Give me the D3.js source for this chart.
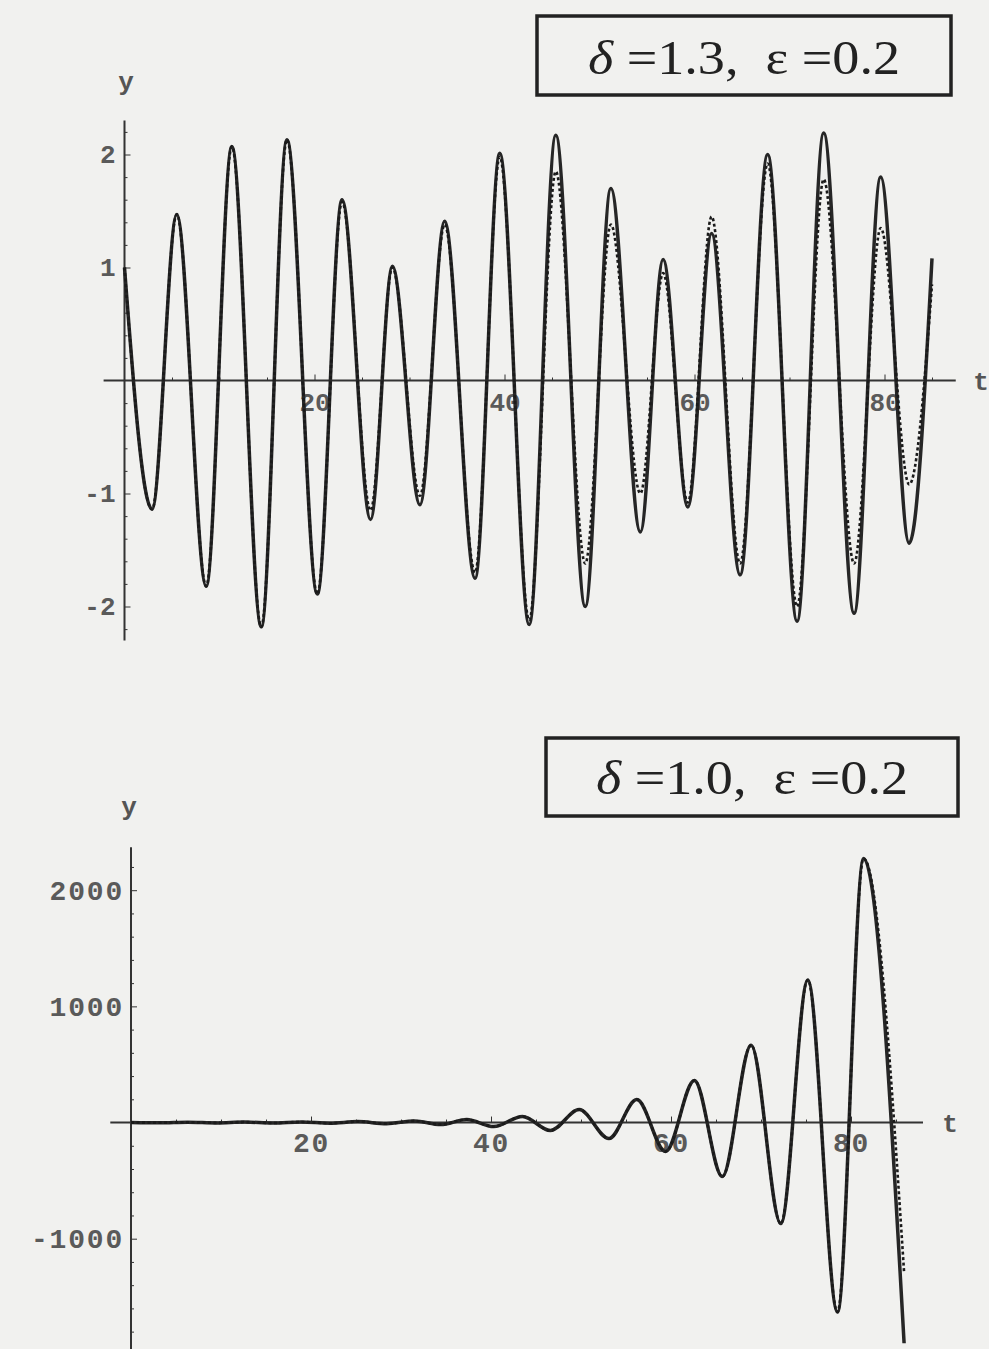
<!DOCTYPE html>
<html>
<head>
<meta charset="utf-8">
<script src="https://cdn.jsdelivr.net/npm/d3@7"></script>
<style>
  html, body { margin: 0; padding: 0; background: #f1f1ef; }
  svg { display: block; }
  .tick text { font-family: 'Liberation Mono', 'DejaVu Sans Mono', monospace; fill: #5a5a5a; font-weight: bold; }
  .axis-line { stroke: #333; stroke-width: 2; }
  .axis-name { font-family: 'Liberation Mono', 'DejaVu Sans Mono', monospace; font-size: 26px; fill: #555; font-weight: bold; }
  .curve { fill: none; stroke: #262626; stroke-width: 3.5; }
  .curve-dashed { fill: none; stroke: #1a1a1a; stroke-width: 2.6; stroke-dasharray: 3 2.5; }
  .param-box { fill: none; stroke: #222; stroke-width: 3.5; }
  .param-text { font-family: 'Liberation Serif', 'DejaVu Serif', serif; font-size: 48px; fill: #222; white-space: pre; }
</style>
</head>
<body>
<div id="chart"></div>
<script>
// Top panel (delta = 1.3, eps = 0.2): t at each extremum
const topT = [0, 2.9, 5.5, 8.6, 11.3, 14.4, 17.1, 20.3, 22.9, 25.9,
  28.2, 31.1, 33.7, 36.9, 39.5, 42.6, 45.4, 48.5, 51.2, 54.3,
  56.7, 59.3, 61.8, 64.8, 67.7, 70.8, 73.6, 76.8, 79.6, 82.6, 85.0]
const topSolid = [1.0, -1.14, 1.47, -1.82, 2.07, -2.18, 2.13, -1.89, 1.60, -1.23,
  1.01, -1.10, 1.41, -1.75, 2.01, -2.16, 2.17, -2.00, 1.70, -1.34,
  1.07, -1.12, 1.30, -1.72, 2.00, -2.13, 2.19, -2.06, 1.80, -1.44, 1.08]
const topDashed = [1.0, -1.14, 1.47, -1.82, 2.07, -2.18, 2.13, -1.89, 1.58, -1.15,
  1.00, -1.02, 1.38, -1.70, 1.98, -2.12, 1.85, -1.62, 1.38, -1.00,
  0.95, -1.08, 1.45, -1.62, 1.92, -2.00, 1.78, -1.62, 1.35, -0.92, 0.85]
const topYTicks = [-2, -1, 1, 2]
const topTTicks = [20, 40, 60, 80]

// Bottom panel (delta = 1.0, eps = 0.2)
const botT = [0, 3.2, 6.3, 9.5, 12.6, 15.8, 18.9, 22.1, 25.2, 28.4,
  31.5, 34.4, 37.3, 40.3, 43.5, 46.6, 49.8, 53.1, 56.2, 59.4,
  62.6, 65.7, 68.9, 72.2, 75.2, 78.5, 81.4, 85.9]
const botSolid = [1, -2, 3, -3, 4, -4, 5, -6, 8, -10,
  14, -18, 26, -35, 52, -69, 112, -138, 198, -250,
  362, -465, 666, -870, 1227, -1631, 2272, -1900]
const botDashed = [1, -2, 3, -3, 4, -4, 5, -6, 8, -10,
  14, -18, 26, -35, 52, -69, 112, -138, 198, -250,
  362, -465, 666, -870, 1227, -1631, 2272, -1290]
const botYTicks = [-1000, 1000, 2000]
const botTTicks = [20, 40, 60, 80]

const panels = [
  {
    t: topT, solid: topSolid, dashed: topDashed,
    yTicks: topYTicks, tTicks: topTTicks,
    yMinor: d3.range(-22, 23, 2).map(d => d / 10).filter(d => d % 1 !== 0),
    delta: '1.3', eps: '0.2',
    xRange: [124.5, 884.5], yDomain: [-2, 2], yRange: [606.5, 154.5],
    tExtent: [-2.2, 87.5], yExtent: [-2.3, 2.3],
    fontSize: 26, spacing: 0, yPad: 9, xPad: 12,
    yName: [126, 90], tName: [981, 390],
    box: [537, 16, 414, 79], textX: 744, textY: 74
  },
  {
    t: botT, solid: botSolid, dashed: botDashed,
    yTicks: botYTicks, tTicks: botTTicks,
    yMinor: d3.range(-1800, 2201, 200).filter(d => d % 1000 !== 0),
    delta: '1.0', eps: '0.2',
    xRange: [131, 851], yDomain: [-1000, 2000], yRange: [1238.7, 890.2],
    tExtent: [-2.3, 88], yExtent: [-2100, 2370],
    fontSize: 28, spacing: 1.8, yPad: 7, xPad: 10,
    yName: [129, 815], tName: [950, 1132],
    box: [546, 738, 412, 78], textX: 752, textY: 794
  }
]

const width = 989
const height = 1349

const svg = d3.select('#chart')
  .append('svg')
  .attr('width', width)
  .attr('height', height)

const drawPanel = (p) => {
  const x = d3.scaleLinear().domain([0, 80]).range(p.xRange)
  const y = d3.scaleLinear().domain(p.yDomain).range(p.yRange)
  const g = svg.append('g')

  //=======================================================
  // Axis lines through the origin
  g.append('line')
    .attr('class', 'axis-line')
    .attr('x1', x(p.tExtent[0])).attr('x2', x(p.tExtent[1]))
    .attr('y1', y(0)).attr('y2', y(0))

  g.append('line')
    .attr('class', 'axis-line')
    .attr('x1', x(0)).attr('x2', x(0))
    .attr('y1', y(p.yExtent[0])).attr('y2', y(p.yExtent[1]))

  // Minor ticks - pointing into the plot
  g.append('g')
    .attr('transform', `translate(${x(0)}, 0)`)
    .attr('color', '#333')
    .call(d3.axisLeft(y).tickValues(p.yMinor).tickSize(-3).tickFormat(''))

  g.append('g')
    .attr('transform', `translate(0, ${y(0)})`)
    .attr('color', '#333')
    .call(d3.axisBottom(x).tickValues(d3.range(5, 86, 5).filter(d => d % 20 !== 0)).tickSize(-3).tickFormat(''))

  // Major ticks + labels
  g.append('g')
    .attr('transform', `translate(${x(0)}, 0)`)
    .attr('color', '#333')
    .call(d3.axisLeft(y).tickValues(p.yTicks).tickSize(-6).tickPadding(p.yPad).tickFormat(d => String(d)))
    .selectAll('text')
    .style('font-size', `${p.fontSize}px`)
    .style('letter-spacing', `${p.spacing}px`)

  g.append('g')
    .attr('transform', `translate(0, ${y(0)})`)
    .attr('color', '#333')
    .call(d3.axisBottom(x).tickValues(p.tTicks).tickSize(-6).tickPadding(p.xPad).tickFormat(d => String(d)))
    .selectAll('text')
    .style('font-size', `${p.fontSize}px`)
    .style('letter-spacing', `${p.spacing}px`)

  g.selectAll('.domain').remove()

  // Axis names
  g.append('text').attr('class', 'axis-name')
    .attr('x', p.yName[0]).attr('y', p.yName[1])
    .attr('text-anchor', 'middle')
    .text('y')

  g.append('text').attr('class', 'axis-name')
    .attr('x', p.tName[0]).attr('y', p.tName[1])
    .attr('text-anchor', 'middle')
    .text('t')

  //=======================================================
  // Curves through the read extrema
  const line = d3.line()
    .x(d => x(d.t))
    .y(d => y(d.v))
    .curve(d3.curveMonotoneX)

  g.append('path')
    .datum(p.t.map((t, i) => ({ t, v: p.solid[i] })))
    .attr('class', 'curve')
    .attr('d', line)

  g.append('path')
    .datum(p.t.map((t, i) => ({ t, v: p.dashed[i] })))
    .attr('class', 'curve-dashed')
    .attr('d', line)

  //=======================================================
  // Parameter box
  g.append('rect')
    .attr('class', 'param-box')
    .attr('x', p.box[0]).attr('y', p.box[1])
    .attr('width', p.box[2]).attr('height', p.box[3])

  const txt = g.append('text')
    .attr('class', 'param-text')
    .attr('x', p.textX).attr('y', p.textY)
    .attr('text-anchor', 'middle')
    .attr('textLength', 312)
    .attr('lengthAdjust', 'spacingAndGlyphs')

  txt.append('tspan').attr('font-style', 'italic').text('\u03b4')
  txt.append('tspan').text(` =${p.delta},  `)
  txt.append('tspan').text('\u03b5')
  txt.append('tspan').text(` =${p.eps}`)
}

panels.forEach(drawPanel)
</script>
</body>
</html>
